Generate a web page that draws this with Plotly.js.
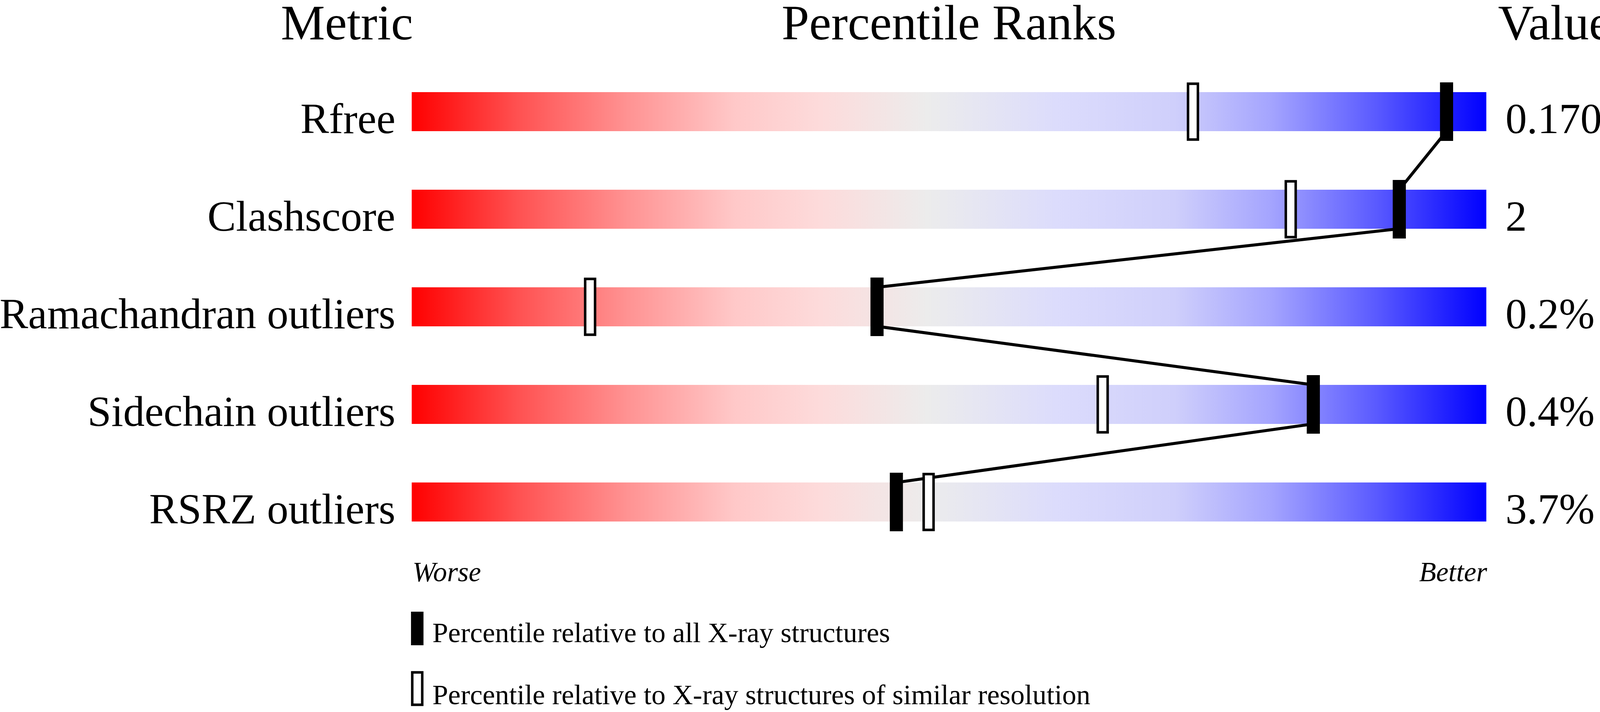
<!DOCTYPE html>
<html>
<head>
<meta charset="utf-8">
<script src="https://cdn.plot.ly/plotly-3.0.1.min.js"></script>
<style>
  html, body { margin: 0; padding: 0; background: #fff; overflow: hidden; }
  #chart { position: absolute; left: 0; top: 0; }
</style>
</head>
<body>
<div id="chart"></div>
<script>
const METRICS = ['Rfree', 'Clashscore', 'Ramachandran outliers', 'Sidechain outliers', 'RSRZ outliers'];
const VALUES = ['0.170', '2', '0.2%', '0.4%', '3.7%'];
const PCT_ALL = [96.3, 91.9, 43.3, 83.9, 45.1];       // relative to all X-ray structures
const PCT_SIMILAR = [72.7, 81.8, 16.6, 64.3, 48.1];   // relative to similar resolution
const SCALE_MIN = 0;
const SCALE_MAX = 100;

// layout is designed on a 4485x1824 grid and stretched to fill the real window
const BASE_W = 4485, BASE_H = 1824;
const W = window.innerWidth || BASE_W, H = window.innerHeight || BASE_H;
const kx = W / BASE_W, ky = H / BASE_H;
const M = { l: 1154 * kx, r: W - 4166 * kx, t: 136 * ky, b: H - 1436 * ky, pad: 0 };
const PLOT_W = W - M.l - M.r, PLOT_H = H - M.t - M.b;
const FONT = '"Liberation Serif", "Times New Roman", serif';

const BAR_HALF = 0.2;      // y units
const MARK_HALF = 0.3;
const SOLID_W = 1.22;      // x units
const OPEN_W = 0.92;

const GRADIENT = [
  [0.00, '#ff0000'], [0.10, '#ff5252'], [0.20, '#ff9292'], [0.30, '#ffc8c8'],
  [0.38, '#fddbdb'], [0.48, '#ececec'], [0.60, '#dcdcfc'], [0.71, '#cfcffb'],
  [0.80, '#a4a4fe'], [0.90, '#5858ff'], [1.00, '#0000ff']
];

// grid pixel -> paper coords, for the bits outside the plot area
const px = x => (x * kx - M.l) / PLOT_W;
const py = y => 1 - (y * ky - M.t) / PLOT_H;
// paper y of a text centre, given its baseline on the grid and its font size (grid px)
const textY = (baseline, size) => 1 - (baseline * ky - 0.3 * size * kx - M.t) / PLOT_H;

const traces = METRICS.map((m, i) => ({
  type: 'scatter', mode: 'none', fill: 'toself', hoverinfo: 'skip',
  x: [SCALE_MIN, SCALE_MAX, SCALE_MAX, SCALE_MIN, SCALE_MIN],
  y: [i - BAR_HALF, i - BAR_HALF, i + BAR_HALF, i + BAR_HALF, i - BAR_HALF],
  fillgradient: { type: 'horizontal', colorscale: GRADIENT, start: SCALE_MIN, stop: SCALE_MAX },
  showlegend: false
}));

// connector between the solid markers: bottom edge of one bar to top edge of the next
const lx = [], ly = [];
PCT_ALL.forEach((p, i) => {
  if (i > 0) { lx.push(p); ly.push(i - BAR_HALF); }
  if (i < PCT_ALL.length - 1) { lx.push(p); ly.push(i + BAR_HALF); }
});
traces.push({
  type: 'scatter', mode: 'lines', x: lx, y: ly, hoverinfo: 'skip',
  line: { color: '#000', width: 8.5 * kx }, showlegend: false
});

const shapes = [];
PCT_SIMILAR.forEach((p, i) => {
  shapes.push({
    type: 'rect', xref: 'x', yref: 'y', layer: 'above',
    x0: p - OPEN_W / 2, x1: p + OPEN_W / 2, y0: i - MARK_HALF + 0.014, y1: i + MARK_HALF - 0.014,
    fillcolor: '#fff', line: { color: '#000', width: 7 * kx }
  });
});
PCT_ALL.forEach((p, i) => {
  shapes.push({
    type: 'rect', xref: 'x', yref: 'y', layer: 'above',
    x0: p - SOLID_W / 2, x1: p + SOLID_W / 2, y0: i - MARK_HALF, y1: i + MARK_HALF,
    fillcolor: '#000', line: { width: 0 }
  });
});
// legend swatches
shapes.push({ type: 'rect', xref: 'paper', yref: 'paper', x0: px(1152), x1: px(1187), y0: py(1653), y1: py(1567),
  fillcolor: '#000', line: { width: 0 } });
shapes.push({ type: 'rect', xref: 'paper', yref: 'paper', x0: px(1155.5), x1: px(1183.5), y0: py(1805.5), y1: py(1722.5),
  fillcolor: '#fff', line: { color: '#000', width: 7 * kx } });

const annotations = [];
const txt = (text, x, baseline, size, anchor) => ({
  text, x: px(x), y: textY(baseline, size), xref: 'paper', yref: 'paper', xanchor: anchor, yanchor: 'middle',
  showarrow: false, font: { family: FONT, size: size * kx, color: '#000' }
});

annotations.push(txt('Metric', 1160, 96, 139, 'right'));
annotations.push(txt('Percentile Ranks', 2660, 96, 139, 'center'));
annotations.push(txt('Value', 4197, 96, 139, 'left'));

METRICS.forEach((m, i) => {
  const base = 337 + 250 * i;
  annotations.push(txt(m, 1110, base, 120, 'right'));
  annotations.push(txt(VALUES[i], 4218, base, 120, 'left'));
});

annotations.push(txt('<i>Worse</i>', 1154, 1486, 78, 'left'));
annotations.push(txt('<i>Better</i>', 4170, 1486, 78, 'right'));
annotations.push(txt('Percentile relative to all X-ray structures', 1210, 1643, 79, 'left'));
annotations.push(txt('Percentile relative to X-ray structures of similar resolution', 1210, 1802, 79, 'left'));

const layout = {
  width: W, height: H,
  margin: M,
  paper_bgcolor: '#fff', plot_bgcolor: '#fff',
  xaxis: { range: [SCALE_MIN, SCALE_MAX], visible: false, fixedrange: true },
  yaxis: { range: [METRICS.length - 1 + 0.6, -0.6], visible: false, fixedrange: true },
  shapes, annotations,
  showlegend: false
};

Plotly.newPlot('chart', traces, layout, { displayModeBar: false, staticPlot: true });
</script>
</body>
</html>
